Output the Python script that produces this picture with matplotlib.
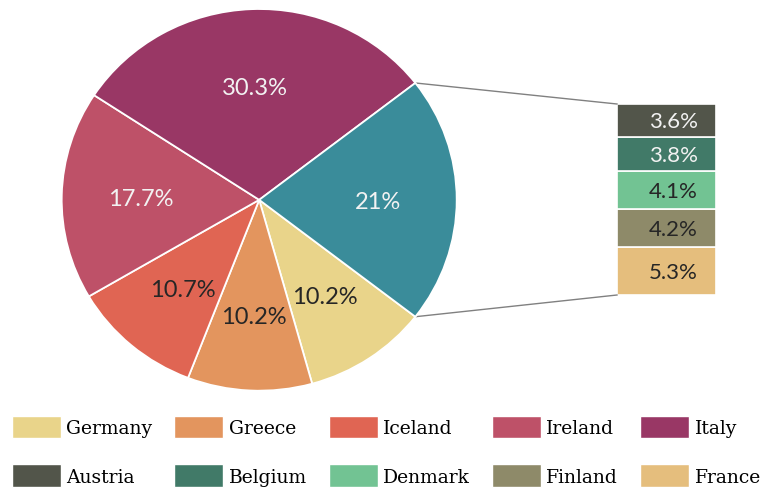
import numpy as np
import matplotlib.pyplot as plt
from matplotlib.patches import Patch

# main pie: five countries plus the "other" slice that is broken out into the bar
pie_labels = ['Germany', 'Greece', 'Iceland', 'Ireland', 'Italy']
pie_values = [10.2, 10.2, 10.7, 17.7, 30.3]
pie_colors = ['#E9D48A', '#E3955E', '#E06553', '#BE5168', '#993765']
other_value = 21
other_color = '#3A8C9A'

# breakdown of the "other" slice
bar_labels = ['Austria', 'Belgium', 'Denmark', 'Finland', 'France']
bar_values = [3.6, 3.8, 4.1, 4.2, 5.3]
bar_colors = ['#52554A', '#417A68', '#72C393', '#8E8A69', '#E5BE7D']

light = '#F2F2F2'
dark = '#262626'

W, H = 765, 489
fig = plt.figure(figsize=(W / 100, H / 100), dpi=100)
ax = fig.add_axes([0, 0, 1, 1])
ax.set_xlim(0, W)
ax.set_ylim(0, H)
ax.axis('off')

# pie gets its own axes (pixel box left, top, right, bottom)
pl, pt, pr, pb = 61.7, 10, 456.7, 391.7
axp = fig.add_axes([pl / W, 1 - pb / H, (pr - pl) / W, (pb - pt) / H])
vals = pie_values + [other_value]
cols = pie_colors + [other_color]
other_deg = 360 * other_value / sum(vals)
start = 360 - other_deg / 2
wedges, texts = axp.pie(
    vals, colors=cols, radius=1, startangle=start, counterclock=False,
    frame=True, wedgeprops=dict(edgecolor='white', linewidth=1.3))
axp.set_xlim(-1, 1)
axp.set_ylim(-1, 1)
axp.set_aspect('auto')
axp.axis('off')

pct_text = [f'{v:g}%' for v in vals]
text_cols = [dark, dark, dark, light, light, light]
for w, t, c in zip(wedges, pct_text, text_cols):
    mid = np.deg2rad((w.theta1 + w.theta2) / 2)
    axp.text(0.6 * np.cos(mid), 0.6 * np.sin(mid) - 0.01, t,
             ha='center', va='center', fontsize=17, color=c, family='Lato')

# stacked bar for the "other" breakdown, France at the bottom
bx, bw = 666.5, 99
b_bottom, b_height = 193, 191
scale = b_height / sum(bar_values)
bottom = b_bottom
for lab, v, c in reversed(list(zip(bar_labels, bar_values, bar_colors))):
    h = v * scale
    ax.bar(bx, h, width=bw, bottom=bottom, color=c, edgecolor='white', linewidth=1.2)
    tc = light if lab in ('Austria', 'Belgium') else dark
    ax.text(bx + 7, bottom + h / 2 - 1, f'{v:g}%', ha='center', va='center',
            fontsize=16, color=tc, family='Lato')
    bottom += h

# connector lines from the edges of the "other" slice to the bar corners
to_main = axp.transData + ax.transData.inverted()
ow = wedges[-1]
for ang, by in ((ow.theta2, b_bottom + b_height), (ow.theta1, b_bottom)):
    a = np.deg2rad(ang)
    px, py = to_main.transform((np.cos(a), np.sin(a)))
    ax.plot([px, bx - bw / 2], [py, by], color='#808080', linewidth=1)

# legend: two rows, pie countries on top, bar countries below
handles = []
for i in range(5):
    handles.append(Patch(facecolor=pie_colors[i], edgecolor='white', label=pie_labels[i]))
    handles.append(Patch(facecolor=bar_colors[i], edgecolor='white', label=bar_labels[i]))
ax.legend(handles=handles, ncol=5, loc='upper left', bbox_to_anchor=(12, 72.5),
          bbox_transform=ax.transData, frameon=False,
          prop=dict(family='DejaVu Serif', size=13.5),
          handlelength=2.6, handleheight=1.51, handletextpad=0.3,
          labelspacing=1.36, columnspacing=1.17, borderpad=0, borderaxespad=0)

fig.savefig('out.png', dpi=100)
